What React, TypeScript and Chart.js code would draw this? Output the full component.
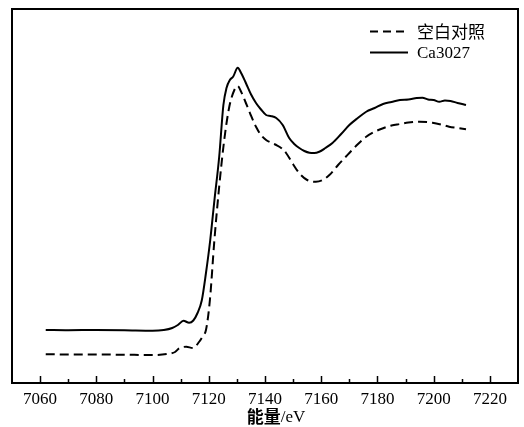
import React, { useEffect, useRef } from "react";
import { Chart, registerables } from "chart.js";

Chart.register(...registerables);

const blankEnergy = [7062, 7070, 7080, 7090, 7100, 7105, 7108, 7109.5, 7112, 7114.3, 7116.6, 7118, 7119, 7120.4, 7122, 7123.7, 7125.5, 7127.3, 7129.1, 7130.3, 7131.5, 7133.2, 7135, 7136.8, 7138.5, 7140.4, 7142, 7144, 7146, 7147.5, 7150, 7152.2, 7155, 7158.1, 7160.5, 7162.9, 7166, 7170, 7173, 7176, 7179, 7182, 7185, 7188, 7191, 7195, 7199.6, 7203, 7205.5, 7208.5, 7211.5];
const blankValues = [0.115, 0.114, 0.114, 0.113, 0.112, 0.116, 0.124, 0.139, 0.145, 0.14, 0.165, 0.19, 0.212, 0.332, 0.572, 0.785, 0.972, 1.105, 1.172, 1.188, 1.165, 1.12, 1.07, 1.025, 0.993, 0.972, 0.962, 0.952, 0.938, 0.92, 0.875, 0.839, 0.812, 0.805, 0.812, 0.832, 0.872, 0.92, 0.955, 0.985, 1.005, 1.019, 1.03, 1.036, 1.042, 1.045, 1.041, 1.033, 1.025, 1.02, 1.015];

const caEnergy = [7062, 7070, 7080, 7090, 7100, 7104, 7107, 7109, 7111, 7113, 7114.5, 7116, 7117.5, 7119, 7120.5, 7122, 7123.7, 7125.2, 7126.3, 7127.5, 7128.7, 7130.3, 7131.5, 7133.2, 7135, 7136.8, 7138.5, 7140.4, 7142, 7144, 7146.3, 7148.6, 7150.5, 7152.2, 7154, 7155.8, 7157.5, 7159.3, 7161.5, 7164, 7167, 7170, 7173, 7176, 7179, 7182, 7185, 7188, 7191, 7194, 7196, 7198, 7200, 7202, 7204, 7206, 7208.5, 7211.5];
const caValues = [0.212, 0.211, 0.212, 0.211, 0.209, 0.212, 0.22, 0.232, 0.249, 0.241, 0.25, 0.28, 0.33, 0.44, 0.57, 0.73, 0.904, 1.112, 1.18, 1.212, 1.226, 1.261, 1.24, 1.2, 1.155, 1.12, 1.095, 1.072, 1.068, 1.06, 1.032, 0.98, 0.955, 0.94, 0.928, 0.921, 0.92, 0.925, 0.94, 0.96, 0.995, 1.032, 1.06, 1.085, 1.1, 1.116, 1.124, 1.132, 1.134, 1.14, 1.141, 1.134, 1.132, 1.125, 1.13, 1.128, 1.12, 1.112];

const xTickLabels = [7060, 7080, 7100, 7120, 7140, 7160, 7180, 7200, 7220];
const xMinorTicks = [7070, 7090, 7110, 7130, 7150, 7170, 7190, 7210];
const seriesNames = ["空白对照", "Ca3027"];
const xAxisTitleCn = "能量";
const xAxisTitleUnit = "/eV";

export default function App() {
  const ref = useRef<HTMLCanvasElement | null>(null);
  useEffect(() => {
    if (!ref.current) return;
    const framePlugin = {
      id: "frame",
      afterDraw(chart: any) {
        const { ctx, chartArea } = chart;
        const xs = chart.scales.x;
        ctx.save();
        ctx.strokeStyle = "#000";
        ctx.lineWidth = 2;
        ctx.strokeRect(chartArea.left, chartArea.top, chartArea.right - chartArea.left, chartArea.bottom - chartArea.top);
        ctx.lineWidth = 1.5;
        ctx.beginPath();
        for (const v of xTickLabels) {
          const px = Math.round(xs.getPixelForValue(v)) + 0.5;
          ctx.moveTo(px, chartArea.bottom);
          ctx.lineTo(px, chartArea.bottom - 7);
        }
        for (const v of xMinorTicks) {
          const px = Math.round(xs.getPixelForValue(v)) + 0.5;
          ctx.moveTo(px, chartArea.bottom);
          ctx.lineTo(px, chartArea.bottom - 4);
        }
        ctx.stroke();
        // axis title
        ctx.fillStyle = "#000";
        ctx.textBaseline = "middle";
        ctx.font = "bold 17px 'Noto Sans CJK SC'";
        const w1 = ctx.measureText(xAxisTitleCn).width;
        ctx.font = "17px 'Liberation Serif'";
        const w2 = ctx.measureText(xAxisTitleUnit).width;
        const cx = 276;
        const startX = cx - (w1 + w2) / 2;
        ctx.textAlign = "left";
        ctx.font = "bold 17px 'Noto Sans CJK SC'";
        ctx.fillText(xAxisTitleCn, startX, 417);
        ctx.font = "17px 'Liberation Serif'";
        ctx.fillText(xAxisTitleUnit, startX + w1, 418);
        // legend
        const lx0 = 370, lx1 = 408, tx = 417;
        const rows = [31.5, 52.5];
        ctx.lineWidth = 2;
        ctx.setLineDash([8, 5]);
        ctx.beginPath();
        ctx.moveTo(lx0, rows[0]);
        ctx.lineTo(lx1, rows[0]);
        ctx.stroke();
        ctx.setLineDash([]);
        ctx.beginPath();
        ctx.moveTo(lx0, rows[1]);
        ctx.lineTo(lx1, rows[1]);
        ctx.stroke();
        ctx.font = "17px 'Noto Sans CJK SC'";
        ctx.fillText(seriesNames[0], tx, rows[0]);
        ctx.font = "17px 'Liberation Serif'";
        ctx.fillText(seriesNames[1], tx, rows[1] + 1);
        ctx.restore();
      },
    };
    const chart = new Chart(ref.current, {
      type: "line",
      data: {
        datasets: [
          {
            label: seriesNames[0],
            data: blankEnergy.map((x, i) => ({ x, y: blankValues[i] })),
            borderColor: "#000",
            borderWidth: 2,
            borderDash: [9, 5],
            pointRadius: 0,
            cubicInterpolationMode: "monotone",
            fill: false,
          },
          {
            label: seriesNames[1],
            data: caEnergy.map((x, i) => ({ x, y: caValues[i] })),
            borderColor: "#000",
            borderWidth: 2,
            pointRadius: 0,
            cubicInterpolationMode: "monotone",
            fill: false,
          },
        ],
      },
      options: {
        responsive: false,
        animation: false,
        layout: { padding: { left: 12, right: 6, top: 9, bottom: 0 } },
        plugins: { legend: { display: false }, tooltip: { enabled: false } },
        scales: {
          x: {
            type: "linear",
            min: 7050,
            max: 7230,
            grid: { display: false, drawTicks: false },
            border: { display: false },
            afterBuildTicks: (scale: any) => {
              scale.ticks = xTickLabels.map((v) => ({ value: v }));
            },
            afterFit: (scale: any) => {
              scale.height = 44;
            },
            ticks: {
              padding: 6,
              color: "#000",
              font: { family: "'Liberation Serif'", size: 17 },
              maxRotation: 0,
              autoSkip: false,
              callback: (v: any) => String(v),
            },
          },
          y: {
            display: false,
            min: 0,
            max: 1.496,
          },
        },
      },
      plugins: [framePlugin],
    });
    return () => chart.destroy();
  }, []);
  return (
    <div style={{ position: "fixed", left: 0, top: 0, width: 524, height: 427, background: "#fff" }}>
      <canvas ref={ref} width={524} height={427} style={{ width: 524, height: 427 }} />
    </div>
  );
}
